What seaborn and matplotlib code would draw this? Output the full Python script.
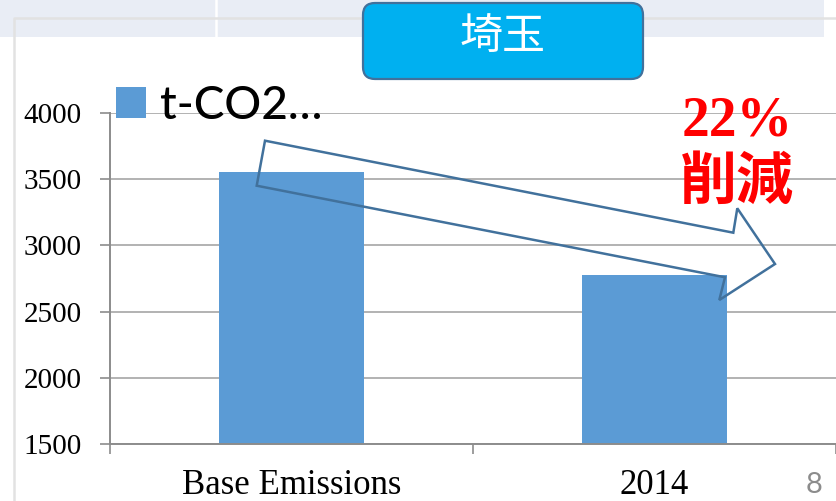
import matplotlib
matplotlib.use('Agg')
import matplotlib.pyplot as plt
import seaborn as sns
import pandas as pd
from matplotlib.patches import FancyBboxPatch, Rectangle, Polygon
from matplotlib.lines import Line2D
from matplotlib.transforms import Affine2D
from matplotlib.ticker import FixedLocator

# ---- data ----
categories = ['Base Emissions', '2014']
emissions = [3555, 2775]
series_label = 't-CO2…'
y_ticks = [1500, 2000, 2500, 3000, 3500, 4000]
title_text = '埼玉'
reduction_pct = '22%'
reduction_word = '削減'
page_number = '8'

W, H = 837, 501
fig = plt.figure(figsize=(W / 100, H / 100), dpi=100)
px = Affine2D().scale(1 / W, -1 / H).translate(0, 1) + fig.transFigure

# ---- slide decorations ----
fig.patches.append(Rectangle((0, 0), 824, 37, transform=px, facecolor='#E9EDF5',
                             edgecolor='none', zorder=0))
fig.lines.append(Line2D([216, 216], [0, 37], transform=px, color='white', lw=1.8, zorder=1))
fig.lines.append(Line2D([14, 14, 837], [501, 18, 18], transform=px, color='#E2E2E2',
                        lw=1.8, zorder=1))

# ---- chart ----
ax = fig.add_axes([110 / W, 1 - 444 / H, (836 - 110) / W, (444 - 113) / H])
ax.set_facecolor('none')
df = pd.DataFrame({'category': categories, 'value': emissions})
sns.barplot(data=df, x='category', y='value', color='#5B9BD5', saturation=1,
            width=0.4, label=series_label, ax=ax, zorder=2)

ax.set_xlim(-0.5, 1.5)
ax.set_ylim(1500, 4000)
ax.set_yticks(y_ticks)
ax.set_xlabel('')
ax.set_ylabel('')
ax.yaxis.grid(True, color='#A5A5A5', lw=1.2)
ax.set_axisbelow(True)
for s in ['top', 'right']:
    ax.spines[s].set_visible(False)
for s in ['left', 'bottom']:
    ax.spines[s].set_color('#8C8C8C')
    ax.spines[s].set_linewidth(1.4)

ax.tick_params(axis='y', length=7.2, width=1.2, color='#8C8C8C', pad=13, labelsize=21)
ax.tick_params(axis='x', which='major', length=0, pad=18, labelsize=25)
ax.xaxis.set_minor_locator(FixedLocator([-0.5, 0.5, 1.5]))
ax.tick_params(axis='x', which='minor', length=7.2, width=1.2, color='#8C8C8C')
for lab in ax.get_xticklabels() + ax.get_yticklabels():
    lab.set_fontfamily('Liberation Serif')
    lab.set_color('black')

leg = ax.legend(loc='center left', bbox_to_anchor=(116 / W, 1 - 106 / H),
                bbox_transform=fig.transFigure, frameon=False, borderpad=0,
                borderaxespad=0, handlelength=0.66, handleheight=0.66,
                handletextpad=0.3,
                prop={'family': ['Lato', 'DejaVu Sans'], 'size': 33, 'weight': 'medium'})

# ---- title box ----
fig.patches.append(FancyBboxPatch((363, 3), 280, 76, boxstyle='round,pad=0,rounding_size=12',
                                  transform=px, facecolor='#00B0F0', edgecolor='#41719C',
                                  lw=1.6, zorder=5))
fig.text(503, 37, title_text, transform=px, ha='center', va='center', color='white',
         fontsize=31, family=['Noto Sans CJK JP', 'DejaVu Sans'], zorder=6)

# ---- reduction annotation ----
fig.text(737, 122, reduction_pct, transform=px, ha='center', va='center', color='red',
         fontsize=40, fontweight='bold', family='Liberation Serif', zorder=6)
fig.text(737, 182, reduction_word, transform=px, ha='center', va='center', color='red',
         fontsize=41, fontweight='bold', family=['Noto Sans CJK JP', 'DejaVu Sans'], zorder=6)

arrow_pts = [(265, 140.7), (733.3, 232.7), (737.3, 208.3), (775, 264),
             (719.3, 300), (725, 277.3), (256.7, 185.7)]
fig.patches.append(Polygon(arrow_pts, closed=True, fill=False, edgecolor='#41719C',
                           lw=1.8, joinstyle='miter', transform=px, zorder=8))

# ---- page number ----
fig.text(814, 485, page_number, transform=px, ha='center', va='center', color='#8C8C8C',
         fontsize=21, family='Lato', zorder=6)

fig.savefig('out.png', dpi=100)
